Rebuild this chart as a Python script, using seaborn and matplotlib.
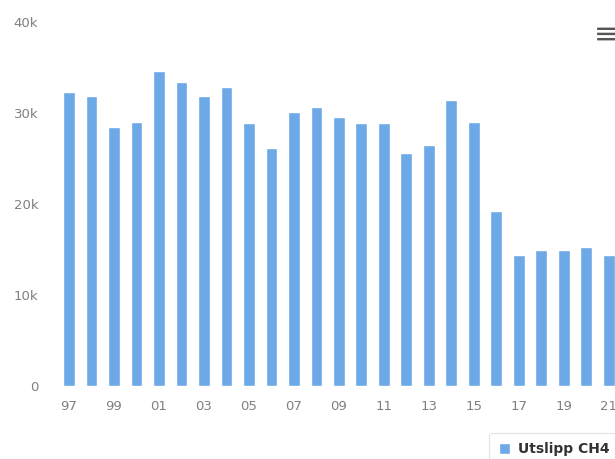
import pandas as pd
import matplotlib.pyplot as plt
import seaborn as sns

# Data: CH4 emissions per year
aar = list(range(1997, 2022))
utslipp = [32300, 31800, 28400, 29000, 34600, 33400, 31800, 32800, 28900, 26100,
           30100, 30700, 29600, 28900, 28900, 25600, 26500, 31400, 29000, 19200,
           14400, 15000, 15000, 15300, 14400]
y_ticks = [0, 10000, 20000, 30000, 40000]
y_labels = ['0', '10k', '20k', '30k', '40k']

df = pd.DataFrame({'aar': [str(a) for a in aar], 'utslipp': utslipp})

sns.set_theme(style="white")
plt.rcParams['font.family'] = ['DejaVu Sans']

fig = plt.figure(figsize=(6.15, 4.59), dpi=100)
ax = fig.add_axes([57.75 / 615, 0.158, (615 - 57.75) / 615, 0.7947])

sns.barplot(data=df, x='aar', y='utslipp', color='#6ca9e6', saturation=1,
            width=0.53, ax=ax, label='Utslipp CH4')

ax.set_xlim(-0.5, 24.27)
ax.set_ylim(0, 40000)
ax.set_yticks(y_ticks)
ax.set_yticklabels(y_labels)
ax.set_xticks(range(0, len(aar), 2))
ax.set_xticklabels([str(a)[2:] for a in aar[::2]])
ax.tick_params(axis='both', length=0, labelsize=9.5, colors='#808080')
ax.tick_params(axis='y', pad=14)
ax.tick_params(axis='x', pad=10)
ax.set_xlabel('')
ax.set_ylabel('')
for s in ax.spines.values():
    s.set_visible(False)

leg = ax.legend(loc='lower left', bbox_to_anchor=(482 / 615, -14 / 459),
                bbox_transform=fig.transFigure, frameon=True,
                handlelength=0.8, handleheight=0.8, handletextpad=0.6,
                prop={'size': 10, 'weight': 'bold'}, borderpad=0.7)
leg.get_frame().set_edgecolor('#dddddd')
leg.get_frame().set_linewidth(0.8)
for t in leg.get_texts():
    t.set_color('#333333')

# menu icon
fig.text(606 / 615, 1 - 35 / 459, '≡', fontsize=21, color='#555555',
         ha='center', va='center')

fig.savefig('out.png', dpi=100)
